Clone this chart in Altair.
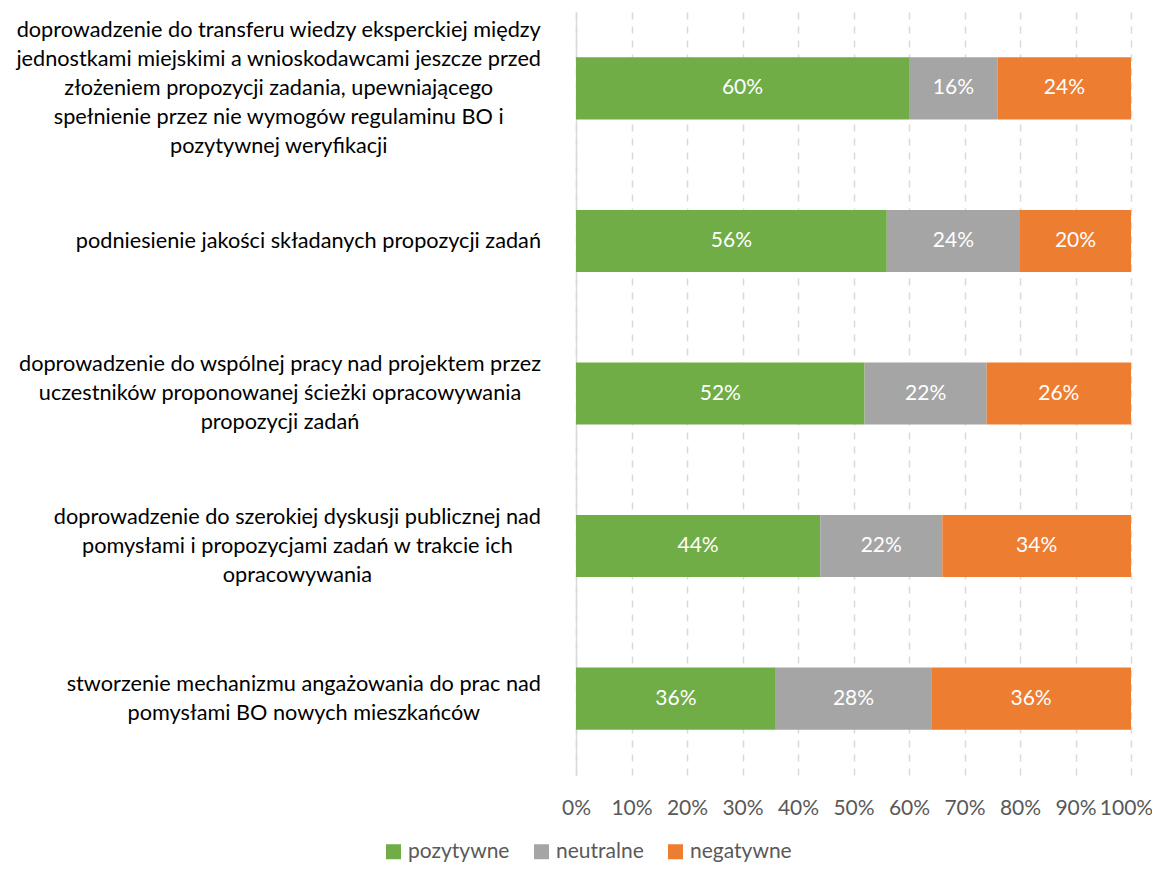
import altair as alt
import pandas as pd

categories = [
    "doprowadzenie do transferu wiedzy eksperckiej między|jednostkami miejskimi a wnioskodawcami jeszcze przed|złożeniem propozycji zadania, upewniającego|spełnienie przez nie wymogów regulaminu BO i|pozytywnej weryfikacji",
    "podniesienie jakości składanych propozycji zadań",
    "doprowadzenie do wspólnej pracy nad projektem przez|uczestników proponowanej ścieżki opracowywania|propozycji zadań",
    "doprowadzenie do szerokiej dyskusji publicznej nad|pomysłami i propozycjami zadań w trakcie ich|opracowywania",
    "stworzenie mechanizmu angażowania do prac nad|pomysłami BO nowych mieszkańców",
]
series = ["pozytywne", "neutralne", "negatywne"]
pozytywne = [0.60, 0.56, 0.52, 0.44, 0.36]
neutralne = [0.16, 0.24, 0.22, 0.22, 0.28]
negatywne = [0.24, 0.20, 0.26, 0.34, 0.36]
colors = ["#70AD47", "#A5A5A5", "#ED7D31"]
x_ticks = [i / 10 for i in range(11)]

FONT = "Lato"
CAT_SIZE = 21.7
LINE_H = 29
GAP = 35  # space between label block and the axis
BAND_HALF = 31  # half of the bar thickness (yOffset is measured from band start)


def text_width(s, size):
    try:
        import subprocess
        from PIL import ImageFont
        path = subprocess.run(["fc-match", "-f", "%{file}", FONT],
                              capture_output=True, text=True).stdout.strip()
        return ImageFont.truetype(path, size).getlength(s)
    except Exception:
        return len(s) * size * 0.47


rows = []
for i, c in enumerate(categories):
    for j, (s, vals) in enumerate(zip(series, [pozytywne, neutralne, negatywne])):
        rows.append({"cat": c, "series": s, "order": j, "value": vals[i]})
df = pd.DataFrame(rows)

lab_rows = []
for c in categories:
    lines = c.split("|")
    w = max(text_width(l, CAT_SIZE) for l in lines)
    lab_rows.append({"cat": c, "lx": -GAP - w / 2,
                     "ly": BAND_HALF - (len(lines) - 1) * LINE_H / 2})
lab_df = pd.DataFrame(lab_rows)

y_scale = alt.Scale(domain=categories, paddingInner=0.593, paddingOuter=0.297)

base = alt.Chart(df).transform_stack(
    stack="value", as_=["x0", "x1"], groupby=["cat"], sort=[alt.SortField("order")]
).transform_calculate(mid="(datum.x0 + datum.x1) / 2")

bars = base.mark_bar().encode(
    x=alt.X(
        "x0:Q",
        scale=alt.Scale(domain=[0, 1], nice=False),
        title=None,
        axis=alt.Axis(
            format="%",
            values=x_ticks,
            grid=True,
            gridDash=[7, 7],
            gridColor="#D9D9D9",
            gridWidth=1.5,
            domain=False,
            ticks=False,
            labelOverlap=False,
            labelFlush=False,
            labelFontSize=21,
            labelColor="#595959",
            labelFont=FONT,
            labelPadding=22,
            labelOffset={"condition": {"test": "datum.value >= 1", "value": -5}, "value": 0},
        ),
    ),
    x2="x1:Q",
    y=alt.Y(
        "cat:N",
        scale=y_scale,
        title=None,
        axis=alt.Axis(labels=False, ticks=False, domain=True,
                      domainColor="#D9D9D9", domainWidth=1.5),
    ),
    color=alt.Color(
        "series:N",
        scale=alt.Scale(domain=series, range=colors),
        legend=alt.Legend(
            title=None,
            orient="none",
            legendX=-193,
            legendY=829,
            direction="horizontal",
            symbolType="square",
            symbolSize=225,
            symbolStrokeWidth=0,
            labelFontSize=21,
            labelColor="#595959",
            labelFont=FONT,
            columnPadding=21,
            labelOffset=4,
        ),
    ),
    order=alt.Order("order:Q"),
)

text = base.mark_text(color="white", fontSize=21, font=FONT).encode(
    x="mid:Q",
    y=alt.Y("cat:N", scale=y_scale),
    text=alt.Text("value:Q", format=".0%"),
)

labels = alt.Chart(lab_df).mark_text(
    lineBreak="|", align="center", baseline="middle",
    fontSize=CAT_SIZE, lineHeight=LINE_H, font=FONT, color="#000000",
).encode(
    x=alt.X("lx:Q", scale=None),
    y=alt.Y("cat:N", scale=y_scale),
    yOffset=alt.YOffset("ly:Q", scale=None),
    text="cat:N",
)

chart = (
    alt.layer(bars, text, labels)
    .properties(
        width=555,
        height=763,
        autosize=alt.AutoSizeParams(type="none"),
        padding={"left": 568, "top": 4, "right": 21, "bottom": 88},
    )
    .configure_view(stroke=None)
)

chart.save("out.html", embed_options={"renderer": "svg", "actions": False})
